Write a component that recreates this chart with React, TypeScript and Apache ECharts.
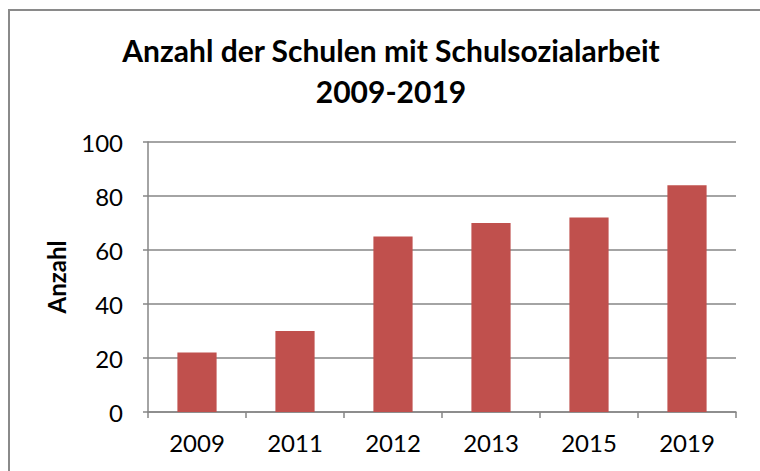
import React, { useEffect, useRef } from "react";
import * as echarts from "echarts";

const categories = ["2009", "2011", "2012", "2013", "2015", "2019"];
const values = [22, 30, 65, 70, 72, 84];
const titleText = "Anzahl der Schulen mit Schulsozialarbeit\n2009-2019";
const yAxisName = "Anzahl";

export default function App() {
  const ref = useRef<HTMLDivElement>(null);
  useEffect(() => {
    if (!ref.current) return;
    const chart = echarts.init(ref.current, null, { renderer: "svg" });
    const gray = "#868686";
    chart.setOption({
      animation: false,
      backgroundColor: "#ffffff",
      textStyle: { fontFamily: "Lato" },
      title: {
        text: titleText,
        left: 386,
        top: 24,
        textAlign: "center",
        textStyle: {
          fontFamily: "Lato",
          fontWeight: "bold",
          fontSize: 30,
          lineHeight: 41,
          color: "#000",
        },
      },
      graphic: [
        {
          type: "rect",
          shape: { x: 9, y: 10, width: 800, height: 500 },
          style: { fill: "none", stroke: "#8a8a8a", lineWidth: 2 },
          silent: true,
          z: 100,
        },
      ],
      grid: { left: 148, right: 24, top: 142, bottom: 59 },
      xAxis: {
        type: "category",
        data: categories,
        axisLine: { show: true, lineStyle: { color: gray, width: 1.5 } },
        axisTick: { show: true, alignWithLabel: false, length: 6, lineStyle: { color: gray, width: 1.5 } },
        axisLabel: { color: "#000", fontSize: 24, fontFamily: "Lato", margin: 18 },
      },
      yAxis: {
        type: "value",
        min: 0,
        max: 100,
        interval: 20,
        name: yAxisName,
        nameLocation: "middle",
        nameRotate: 90,
        nameGap: 80,
        nameTextStyle: { color: "#000", fontSize: 24, fontWeight: "bold", fontFamily: "Lato" },
        axisLine: { show: true, lineStyle: { color: gray, width: 1.5 } },
        axisTick: { show: true, length: 5, lineStyle: { color: gray, width: 1.5 } },
        axisLabel: { color: "#000", fontSize: 24, fontFamily: "Lato", margin: 25 },
        splitLine: { show: true, lineStyle: { color: gray, width: 1.5 } },
      },
      series: [
        {
          type: "bar",
          data: values,
          barWidth: "40%",
          itemStyle: { color: "#C0504D" },
        },
      ],
    });
    return () => chart.dispose();
  }, []);
  return (
    <div
      ref={ref}
      style={{ position: "absolute", left: 0, top: 0, width: 760, height: 471 }}
    />
  );
}
